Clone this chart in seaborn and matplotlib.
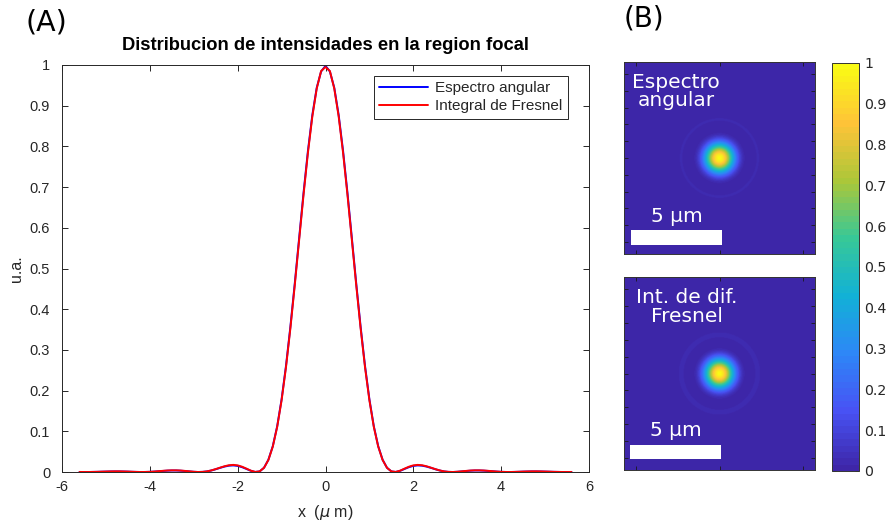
import numpy as np
import matplotlib
matplotlib.use("Agg")
import matplotlib.pyplot as plt
import seaborn as sns
from matplotlib.colors import LinearSegmentedColormap
from matplotlib.ticker import FuncFormatter
from matplotlib.patches import Rectangle
from matplotlib.cm import ScalarMappable
from matplotlib.colors import Normalize

# ---------------- data ----------------
x_um = [-5.6, -5.5, -5.4, -5.3, -5.2, -5.1, -5.0, -4.9, -4.8, -4.7, -4.6, -4.5, -4.4, -4.3,
        -4.2, -4.1, -4.0, -3.9, -3.8, -3.7, -3.6, -3.5, -3.4, -3.3, -3.2, -3.1, -3.0, -2.9,
        -2.8, -2.7, -2.6, -2.5, -2.4, -2.3, -2.2, -2.1, -2.0, -1.9, -1.8, -1.7, -1.6, -1.5,
        -1.4, -1.3, -1.2, -1.1, -1.0, -0.9, -0.8, -0.7, -0.6, -0.5, -0.4, -0.3, -0.2, -0.1,
        0.0,
        0.1, 0.2, 0.3, 0.4, 0.5, 0.6, 0.7, 0.8, 0.9, 1.0, 1.1, 1.2, 1.3, 1.4,
        1.5, 1.6, 1.7, 1.8, 1.9, 2.0, 2.1, 2.2, 2.3, 2.4, 2.5, 2.6, 2.7, 2.8,
        2.9, 3.0, 3.1, 3.2, 3.3, 3.4, 3.5, 3.6, 3.7, 3.8, 3.9, 4.0, 4.1, 4.2,
        4.3, 4.4, 4.5, 4.6, 4.7, 4.8, 4.9, 5.0, 5.1, 5.2, 5.3, 5.4, 5.5, 5.6]

I_fresnel = [0.0001, 0.0000, 0.0000, 0.0002, 0.0004, 0.0008, 0.0011, 0.0014, 0.0016, 0.0016,
             0.0013, 0.0010, 0.0006, 0.0002, 0.0000, 0.0001, 0.0004, 0.0011, 0.0020, 0.0029,
             0.0037, 0.0041, 0.0041, 0.0036, 0.0027, 0.0016, 0.0006, 0.0000, 0.0003, 0.0015,
             0.0039, 0.0071, 0.0107, 0.0141, 0.0166, 0.0175, 0.0163, 0.0130, 0.0083, 0.0033,
             0.0002, 0.0015, 0.0103, 0.0297, 0.0625, 0.1109, 0.1760, 0.2572, 0.3527, 0.4587,
             0.5703, 0.6811, 0.7844, 0.8734, 0.9420, 0.9852,
             0.9950,
             0.9852, 0.9420, 0.8734, 0.7844, 0.6811, 0.5703, 0.4587, 0.3527, 0.2572, 0.1760,
             0.1109, 0.0625, 0.0297, 0.0103, 0.0015, 0.0002, 0.0033, 0.0083, 0.0130, 0.0163,
             0.0175, 0.0166, 0.0141, 0.0107, 0.0071, 0.0039, 0.0015, 0.0003, 0.0000, 0.0006,
             0.0016, 0.0027, 0.0036, 0.0041, 0.0041, 0.0037, 0.0029, 0.0020, 0.0011, 0.0004,
             0.0001, 0.0000, 0.0002, 0.0006, 0.0010, 0.0013, 0.0016, 0.0016, 0.0014, 0.0011,
             0.0008, 0.0004, 0.0002, 0.0000, 0.0000, 0.0001]

I_angular = [0.0001, 0.0000, 0.0000, 0.0002, 0.0004, 0.0007, 0.0010, 0.0013, 0.0014, 0.0014,
             0.0012, 0.0009, 0.0005, 0.0002, 0.0000, 0.0001, 0.0004, 0.0010, 0.0018, 0.0026,
             0.0033, 0.0037, 0.0037, 0.0032, 0.0024, 0.0014, 0.0005, 0.0000, 0.0003, 0.0014,
             0.0037, 0.0068, 0.0102, 0.0133, 0.0155, 0.0162, 0.0150, 0.0119, 0.0075, 0.0029,
             0.0001, 0.0014, 0.0104, 0.0302, 0.0635, 0.1125, 0.1785, 0.2605, 0.3565, 0.4630,
             0.5750, 0.6860, 0.7890, 0.8770, 0.9440, 0.9840,
             0.9980,
             0.9840, 0.9440, 0.8770, 0.7890, 0.6860, 0.5750, 0.4630, 0.3565, 0.2605, 0.1785,
             0.1125, 0.0635, 0.0302, 0.0104, 0.0014, 0.0001, 0.0029, 0.0075, 0.0119, 0.0150,
             0.0162, 0.0155, 0.0133, 0.0102, 0.0068, 0.0037, 0.0014, 0.0003, 0.0000, 0.0005,
             0.0014, 0.0024, 0.0032, 0.0037, 0.0037, 0.0033, 0.0026, 0.0018, 0.0010, 0.0004,
             0.0001, 0.0000, 0.0002, 0.0005, 0.0009, 0.0012, 0.0014, 0.0014, 0.0013, 0.0010,
             0.0007, 0.0004, 0.0002, 0.0000, 0.0000, 0.0001]

x_ticks = [-6, -4, -2, 0, 2, 4, 6]
y_ticks = [0, 0.1, 0.2, 0.3, 0.4, 0.5, 0.6, 0.7, 0.8, 0.9, 1.0]
cbar_ticks = [0, 0.1, 0.2, 0.3, 0.4, 0.5, 0.6, 0.7, 0.8, 0.9, 1.0]

# parula-like colormap anchors
parula_colors = [(0.2422, 0.1504, 0.6603), (0.2810, 0.3228, 0.9579),
                 (0.1786, 0.5289, 0.9682), (0.0689, 0.6948, 0.8394),
                 (0.2161, 0.7843, 0.5923), (0.6720, 0.7793, 0.2227),
                 (0.9970, 0.7659, 0.2199), (0.9769, 0.9839, 0.0805)]
parula = LinearSegmentedColormap.from_list("parula", parula_colors, N=64)

# ---------------- figure ----------------
sns.set_theme(style="white")
plt.rcParams["font.family"] = ["Liberation Sans", "DejaVu Sans"]
plt.rcParams["axes.unicode_minus"] = False
plt.rcParams["mathtext.fontset"] = "dejavusans"

W, H = 892, 525
fig = plt.figure(figsize=(W / 100, H / 100), dpi=100)
fig.patch.set_facecolor("white")

def fa(l, t, r, b):
    return [l / W, 1 - b / H, (r - l) / W, (b - t) / H]

dark = "0.15"

# ---- panel A ----
ax = fig.add_axes(fa(62, 65, 589, 472))
sns.lineplot(x=x_um, y=I_angular, color=(0, 0, 1), lw=1.4, label="Espectro angular",
             ax=ax, sort=False)
sns.lineplot(x=x_um, y=I_fresnel, color=(1, 0, 0), lw=1.4, label="Integral de Fresnel",
             ax=ax, sort=False)
ax.set_xlim(-6, 6)
ax.set_ylim(0, 1)
ax.set_xticks(x_ticks)
ax.set_yticks(y_ticks)
fmt = FuncFormatter(lambda v, p: f"{v:g}")
ax.xaxis.set_major_formatter(fmt)
ax.yaxis.set_major_formatter(fmt)
ax.tick_params(direction="in", length=4.5, width=0.7, top=True, right=True,
               bottom=True, left=True, colors=dark, labelsize=10.5)
ax.tick_params(axis="y", pad=8.5)
ax.tick_params(axis="x", pad=6)
for sp in ax.spines.values():
    sp.set_visible(True)
    sp.set_color(dark)
    sp.set_linewidth(0.7)
ax.set_title("Distribucion de intensidades en la region focal", fontsize=13.2,
             fontweight="bold", pad=11, color="black")
ax.set_xlabel("x  ($\\mu$ m)", fontsize=11.5, color=dark, labelpad=6)
ax.set_ylabel("u.a.", fontsize=11.5, color=dark, labelpad=4)
leg = ax.legend(loc="upper right", bbox_to_anchor=(1 - 21 / 527, 1 - 11 / 407),
                fontsize=11, frameon=True, fancybox=False, edgecolor=dark,
                handlelength=3.2, borderaxespad=0, framealpha=1,
                borderpad=0.35, labelspacing=0.25, handletextpad=0.5)
leg.get_frame().set_linewidth(0.7)

fig.text(25 / W, 1 - 22 / H, "(A)", fontsize=20.5, family="DejaVu Sans",
         va="center", ha="left", color="black")
fig.text(624 / W, 1 - 18 / H, "(B)", fontsize=20, family="DejaVu Sans",
         va="center", ha="left", color="black")

# ---- panel B: two focal maps built from the radial profiles above ----
x_arr = np.array(x_um)
half = x_arr >= 0
r_prof = x_arr[half]
ext = 5.25
grid = np.linspace(-ext, ext, 301)
GX, GY = np.meshgrid(grid, grid)
R = np.hypot(GX, GY)

text_x = {"Espectro\nangular": -2.39, "Int. de dif.\nFresnel": -1.8}

def focal_map(axm, profile, label, text_y, bar_y, num_y, bar_x0):
    Z = np.interp(R, r_prof, np.array(profile)[half], right=0.0)
    axm.imshow(Z, cmap=parula, vmin=0, vmax=1, origin="lower",
               extent=(-ext, ext, -ext, ext), interpolation="bilinear", aspect="auto")
    axm.set_xlim(-ext, ext)
    axm.set_ylim(-ext, ext)
    axm.set_xticks([-4.6, 0, 4.6])
    axm.set_yticks([k * 0.917 for k in range(-5, 6)])
    axm.tick_params(direction="in", length=3, width=0.6, top=True, right=True,
                    bottom=True, left=True, labelbottom=False, labelleft=False,
                    colors="0.1")
    for sp in axm.spines.values():
        sp.set_visible(True)
        sp.set_color("0.2")
        sp.set_linewidth(0.7)
    axm.text(text_x[label], text_y, label, color="white", fontsize=14.5,
             family="DejaVu Sans", ha="center", va="center",
             multialignment="center", linespacing=0.98)
    axm.add_patch(Rectangle((bar_x0, bar_y[0]), 5.0, bar_y[1] - bar_y[0],
                            facecolor="white", edgecolor="none", zorder=3))
    axm.text(bar_x0 + 2.5, num_y, "5 μm", color="white", fontsize=14.5,
             family="DejaVu Sans", ha="center", va="center")

ax1 = fig.add_axes(fa(624, 62, 815, 254))
focal_map(ax1, I_angular, "Espectro\nangular", 3.63, (-4.78, -3.96), -3.19, -4.87)
ax2 = fig.add_axes(fa(624, 277, 815, 470))
focal_map(ax2, I_fresnel, "Int. de dif.\nFresnel", 3.62, (-4.64, -3.87), -3.10, -4.92)

# ---- colorbar ----
cax = fig.add_axes(fa(832, 63, 859, 471))
sm = ScalarMappable(norm=Normalize(0, 1), cmap=parula)
cb = fig.colorbar(sm, cax=cax, ticks=cbar_ticks)
cb.ax.yaxis.set_major_formatter(fmt)
cb.outline.set_edgecolor("0.2")
cb.outline.set_linewidth(0.7)
cax.tick_params(direction="in", length=3, width=0.6, left=True, right=True,
                labelleft=False, labelright=True, colors="0.15", labelsize=10.2, pad=4)
for t in cax.get_yticklabels():
    t.set_family("DejaVu Sans")

fig.savefig("out.png", dpi=100, facecolor="white")
